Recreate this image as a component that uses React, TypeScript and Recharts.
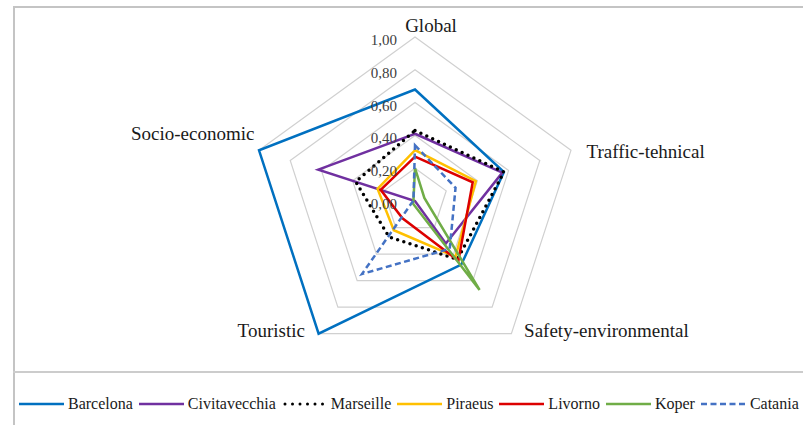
import { RadarChart, Radar, PolarGrid, PolarAngleAxis, PolarRadiusAxis, Legend } from 'recharts';

const CATEGORIES = ['Global', 'Traffic-tehnical', 'Safety-environmental', 'Touristic', 'Socio-economic'];

const barcelona = [0.68, 0.57, 0.48, 1.0, 1.0];
const civitavecchia = [0.41, 0.56, 0.32, 0.0, 0.62];
const marseille = [0.43, 0.57, 0.44, 0.27, 0.38];
const piraeus = [0.31, 0.39, 0.42, 0.22, 0.24];
const livorno = [0.27, 0.37, 0.45, 0.13, 0.22];
const koper = [0.2, 0.06, 0.67, 0.02, 0.01];
const catania = [0.34, 0.26, 0.36, 0.55, 0.01];

const RADIUS_TICKS = [0, 0.2, 0.4, 0.6, 0.8, 1.0];

const SERIES = [
  { key: 'Barcelona', values: barcelona, color: '#0070C0', dash: undefined, width: 2.5, cap: 'butt' },
  { key: 'Civitavecchia', values: civitavecchia, color: '#7030A0', dash: undefined, width: 2.5, cap: 'butt' },
  { key: 'Marseille', values: marseille, color: '#000000', dash: '0 6.5', width: 3.5, cap: 'round' },
  { key: 'Piraeus', values: piraeus, color: '#FFC000', dash: undefined, width: 2.5, cap: 'butt' },
  { key: 'Livorno', values: livorno, color: '#DC0000', dash: undefined, width: 2.5, cap: 'butt' },
  { key: 'Koper', values: koper, color: '#70AD47', dash: undefined, width: 2.5, cap: 'butt' },
  { key: 'Catania', values: catania, color: '#4472C4', dash: '6 3.5', width: 2.5, cap: 'butt' },
];

const data = CATEGORIES.map((name, i) => {
  const row: Record<string, string | number> = { name };
  SERIES.forEach((s) => {
    row[s.key] = s.values[i];
  });
  return row;
});

const FONT = "'Liberation Serif', Tinos, 'Times New Roman', Times, 'DejaVu Serif', serif";

// label nudges to match the original layout
const LABEL_NUDGE: Record<string, { dx: number; dy: number; anchor: string }> = {
  Global: { dx: 16, dy: 3, anchor: 'middle' },
  'Traffic-tehnical': { dx: 8, dy: 10, anchor: 'start' },
  'Safety-environmental': { dx: 8, dy: -3, anchor: 'start' },
  Touristic: { dx: -9, dy: -3, anchor: 'end' },
  'Socio-economic': { dx: 3, dy: -8, anchor: 'end' },
};

function AngleTick(props: any) {
  const { x, y, payload } = props;
  const n = LABEL_NUDGE[payload.value] ?? { dx: 0, dy: 0, anchor: 'middle' };
  return (
    <text x={x + n.dx} y={y + n.dy} textAnchor={n.anchor} style={{ fontFamily: FONT, fontSize: 19 }} fill="#1a1a1a">
      {payload.value}
    </text>
  );
}

function RadiusTick(props: any) {
  const { x, y, payload } = props;
  return (
    <text x={x - 18} y={y + 8} textAnchor="end" style={{ fontFamily: FONT, fontSize: 15 }} fill="#404040">
      {Number(payload.value).toFixed(2).replace('.', ',')}
    </text>
  );
}

function LegendContent() {
  return (
    <div style={{ display: 'flex', alignItems: 'center', fontFamily: FONT, fontSize: 16, color: '#1a1a1a', whiteSpace: 'nowrap' }}>
      {SERIES.map((s) => (
        <div key={s.key} style={{ display: 'flex', alignItems: 'center', marginRight: 6 }}>
          <svg width={45} height={10} style={{ marginRight: 4 }}>
            <line
              x1={s.cap === 'round' ? 3 : 0}
              y1={5}
              x2={s.cap === 'round' ? 42 : 45}
              y2={5}
              stroke={s.color}
              strokeWidth={s.cap === 'round' ? 3 : 2.5}
              strokeDasharray={s.cap === 'round' ? '0 7.5' : s.dash}
              strokeLinecap={s.cap as any}
            />
          </svg>
          <span>{s.key}</span>
        </div>
      ))}
    </div>
  );
}

export default function App() {
  return (
    <div style={{ position: 'absolute', left: 0, top: 0, width: 803, height: 425, overflow: 'hidden', background: '#fff' }}>
      <div style={{ position: 'absolute', left: 13, top: 6, width: 820, height: 500, borderLeft: '2px solid #c4c4c4', borderTop: '2px solid #c4c4c4' }} />
      <div style={{ position: 'absolute', left: 13, top: 371, width: 800, height: 0, borderTop: '2px solid #cccccc' }} />
      <div style={{ position: 'absolute', left: 0, top: 0 }}>
        <RadarChart width={803} height={425} data={data} cx={415} cy={201} outerRadius={164} margin={{ top: 0, right: 0, bottom: 0, left: 0 }}>
          <PolarGrid gridType="polygon" radialLines={false} stroke="#d0d0d0" strokeWidth={1.2} />
          <PolarAngleAxis dataKey="name" tick={<AngleTick />} tickLine={false} axisLine={false} />
          <PolarRadiusAxis
            angle={90}
            domain={[0, 1]}
            ticks={RADIUS_TICKS}
            tick={<RadiusTick />}
            axisLine={false}
            tickLine={false}
          />
          {SERIES.map((s) => (
            <Radar
              key={s.key}
              name={s.key}
              dataKey={s.key}
              stroke={s.color}
              strokeWidth={s.width}
              strokeDasharray={s.dash}
              strokeLinecap={s.cap as any}
              strokeLinejoin="miter"
              fill="none"
              fillOpacity={0}
              dot={false}
              isAnimationActive={false}
            />
          ))}
          <Legend
            content={<LegendContent />}
            wrapperStyle={{ position: 'absolute', left: 19, top: 395, width: 820 }}
          />
        </RadarChart>
      </div>
    </div>
  );
}
